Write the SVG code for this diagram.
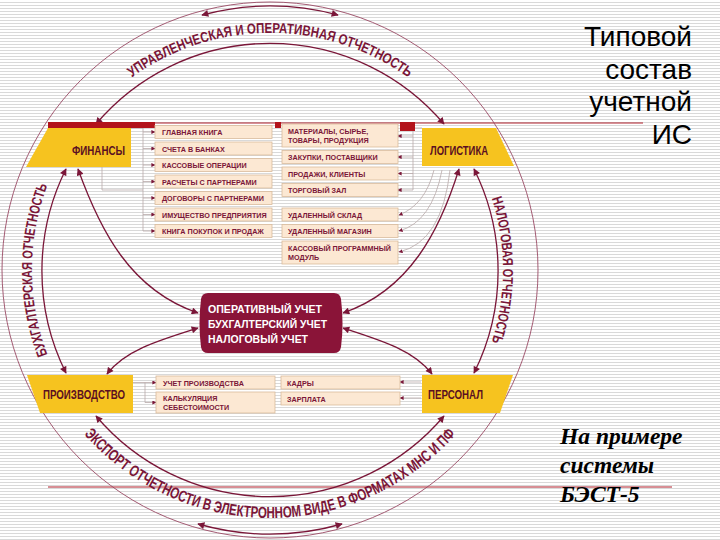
<svg xmlns="http://www.w3.org/2000/svg" width="720" height="540" viewBox="0 0 720 540">
<style>
.arc{fill:none;stroke:#7a1638;stroke-width:1.3}
.outer{fill:none;stroke:#9a4a64;stroke-width:0.9}
.arcT{font-family:"Liberation Sans",Arial,sans-serif;font-weight:bold;fill:#7a1638}
.corner path{fill:#f6c31f}
.corner text{font-family:"Liberation Sans",Arial,sans-serif;font-weight:bold;font-size:13px;fill:#5a0f22}
.item rect{fill:#fce8d3;stroke:#d9bb9c;stroke-width:0.8}
.item text{font-family:"Liberation Sans",Arial,sans-serif;font-weight:bold;font-size:7.2px;fill:#7a1638}
.conn{fill:none;stroke:#b9a9a9;stroke-width:0.8}
.slide{stroke:#b0202c;stroke-width:1.1}
.title{font-family:"Liberation Sans",Arial,sans-serif;font-size:28px;fill:#000}
.sub{font-family:"Liberation Serif","Times New Roman",serif;font-weight:bold;font-style:italic;font-size:23.5px;fill:#000}
.ctext{font-family:"Liberation Sans",Arial,sans-serif;font-weight:bold;font-size:11.5px;fill:#fff}
</style>
<defs>
<pattern id="stripes" width="4" height="3" patternUnits="userSpaceOnUse">
<rect width="4" height="3" fill="#ffffff"/>
<rect y="2" width="4" height="1" fill="#d9d9d9"/>
</pattern>
<marker id="ah" viewBox="0 0 10 10" refX="9" refY="5" markerWidth="8" markerHeight="7" markerUnits="userSpaceOnUse" orient="auto-start-reverse">
<path d="M0,0 L10,5 L0,10 z" fill="#7a1638"/>
</marker>
<marker id="sa" viewBox="0 0 10 10" refX="9" refY="5" markerWidth="4" markerHeight="4" markerUnits="userSpaceOnUse" orient="auto">
<path d="M0,0 L10,5 L0,10 z" fill="#7a1638"/>
</marker>
<path id="pTop" d="M117.7,88.4 A237,237 0 0 1 422.3,88.4"/>
<path id="pLeft" d="M75,406.5 A238,238 0 0 1 75,133.5"/>
<path id="pRight" d="M460.9,136.4 A233,233 0 0 1 460.9,403.6"/>
<path id="pBottom" d="M55.2,394 A248,248 0 0 0 484.8,394"/>
</defs>

<rect width="720" height="540" fill="url(#stripes)"/>

<g id="slide-lines">
<line class="slide" x1="48" y1="123" x2="643" y2="123"/>
<line class="slide" x1="48" y1="487" x2="672" y2="487"/>
</g>

<g id="title">
<text class="title" text-anchor="end" x="692" y="46">Типовой</text>
<text class="title" text-anchor="end" x="692" y="78.5">состав</text>
<text class="title" text-anchor="end" x="692" y="111">учетной</text>
<text class="title" text-anchor="end" x="692" y="143.5">ИС</text>
</g>
<g id="subtitle">
<text class="sub" x="560" y="444">На примере</text>
<text class="sub" x="560" y="473">системы</text>
<text class="sub" x="560" y="502">БЭСТ-5</text>
</g>

<g id="outer-ring">
<circle class="outer" cx="270" cy="270" r="268"/>
</g>

<g id="arc-labels">
<text class="arcT" font-size="14.5"><textPath href="#pTop" startOffset="50%" text-anchor="middle" textLength="295" lengthAdjust="spacingAndGlyphs">УПРАВЛЕНЧЕСКАЯ И ОПЕРАТИВНАЯ ОТЧЕТНОСТЬ</textPath></text>
<text class="arcT" font-size="14.5"><textPath href="#pLeft" startOffset="50%" text-anchor="middle" textLength="173" lengthAdjust="spacingAndGlyphs">БУХГАЛТЕРСКАЯ ОТЧЕТНОСТЬ</textPath></text>
<text class="arcT" font-size="14.5"><textPath href="#pRight" startOffset="50%" text-anchor="middle" textLength="146" lengthAdjust="spacingAndGlyphs">НАЛОГОВАЯ ОТЧЕТНОСТЬ</textPath></text>
<text class="arcT" font-size="16"><textPath href="#pBottom" startOffset="50%" text-anchor="middle" textLength="420" lengthAdjust="spacingAndGlyphs">ЭКСПОРТ ОТЧЕТНОСТИ В ЭЛЕКТРОННОМ ВИДЕ В ФОРМАТАХ МНС И ПФ</textPath></text>
</g>

<g id="connectors">
<path class="arc" d="M202,15 A264,264 0 0 1 338,15" marker-start="url(#ah)" marker-end="url(#ah)"/>
<path class="arc" d="M198,524 A264,264 0 0 0 342,524" marker-start="url(#ah)" marker-end="url(#ah)"/>
<path class="arc" d="M96,124 A228,228 0 0 1 444,124" marker-start="url(#ah)" marker-end="url(#ah)"/>
<path class="arc" d="M66,169 A228,228 0 0 0 66,373" marker-start="url(#ah)" marker-end="url(#ah)"/>
<path class="arc" d="M474,169 A228,228 0 0 1 474,373" marker-start="url(#ah)" marker-end="url(#ah)"/>
<path class="arc" d="M96,416 A228,228 0 0 0 444,416" marker-start="url(#ah)" marker-end="url(#ah)"/>
<path class="arc" d="M78,169 C100,230 130,290 198,313" marker-start="url(#ah)" marker-end="url(#ah)"/>
<path class="arc" d="M107,374 C125,350 160,340 198,328" marker-start="url(#ah)" marker-end="url(#ah)"/>
<path class="arc" d="M459,169 C440,230 410,290 343,313" marker-start="url(#ah)" marker-end="url(#ah)"/>
<path class="arc" d="M432,374 C414,350 380,340 343,328" marker-start="url(#ah)" marker-end="url(#ah)"/>
<path class="conn" d="M131,128 H143 M143,128 V231 M102,167 V190 H143"/>
<line class="conn" x1="143" y1="132" x2="155" y2="132" marker-end="url(#sa)"/>
<line class="conn" x1="143" y1="148.5" x2="155" y2="148.5" marker-end="url(#sa)"/>
<line class="conn" x1="143" y1="165" x2="155" y2="165" marker-end="url(#sa)"/>
<line class="conn" x1="143" y1="181.5" x2="155" y2="181.5" marker-end="url(#sa)"/>
<line class="conn" x1="143" y1="198" x2="155" y2="198" marker-end="url(#sa)"/>
<line class="conn" x1="143" y1="214.5" x2="155" y2="214.5" marker-end="url(#sa)"/>
<line class="conn" x1="143" y1="231" x2="155" y2="231" marker-end="url(#sa)"/>
<path class="conn" d="M422,128 H413 V190"/>
<line class="conn" x1="413" y1="136" x2="398" y2="136" marker-end="url(#sa)"/>
<line class="conn" x1="413" y1="157" x2="398" y2="157" marker-end="url(#sa)"/>
<line class="conn" x1="413" y1="173.5" x2="398" y2="173.5" marker-end="url(#sa)"/>
<line class="conn" x1="413" y1="190" x2="398" y2="190" marker-end="url(#sa)"/>
<path class="conn" d="M434,170 Q425,205 399,215" marker-end="url(#sa)"/>
<path class="conn" d="M442,170 Q432,222 399,231" marker-end="url(#sa)"/>
<path class="conn" d="M450,170 Q442,242 399,252" marker-end="url(#sa)"/>
<path class="conn" d="M133,382.5 H145 V402.5"/>
<line class="conn" x1="145" y1="382.5" x2="156" y2="382.5" marker-end="url(#sa)"/>
<line class="conn" x1="145" y1="402.5" x2="156" y2="402.5" marker-end="url(#sa)"/>
<line class="conn" x1="421" y1="382" x2="400" y2="382" marker-end="url(#sa)"/>
<line class="conn" x1="421" y1="398" x2="400" y2="398" marker-end="url(#sa)"/>
</g>

<g id="finance" class="corner">
<rect x="48" y="122" width="107" height="6" fill="#b3131b"/>
<path d="M48,128 H131 V167 H26 Z"/>
<text x="72" y="155" textLength="53" lengthAdjust="spacingAndGlyphs">ФИНАНСЫ</text>
</g>
<g id="logistics" class="corner">
<rect x="400" y="122" width="15" height="9" fill="#b3131b"/>
<path d="M422,128 H496 L514,166 H422 Z"/>
<text x="430" y="155" textLength="58" lengthAdjust="spacingAndGlyphs">ЛОГИСТИКА</text>
</g>
<g id="production" class="corner">
<path d="M27,375 H133 V413 H40 Z"/>
<text x="43" y="399" textLength="82" lengthAdjust="spacingAndGlyphs">ПРОИЗВОДСТВО</text>
</g>
<g id="personnel" class="corner">
<path d="M422,375 H513 L500,413 H422 Z"/>
<text x="428" y="399" textLength="55" lengthAdjust="spacingAndGlyphs">ПЕРСОНАЛ</text>
</g>

<g id="center">
<path d="M208,293 H334 Q340,293 341,299 Q344,323 341,347 Q340,353 334,353 H208 Q202,353 201,347 Q198,323 201,299 Q202,293 208,293 Z" fill="#8a1438"/>
<text class="ctext" x="208" y="313" textLength="114" lengthAdjust="spacingAndGlyphs">ОПЕРАТИВНЫЙ УЧЕТ</text>
<text class="ctext" x="208" y="328" textLength="119" lengthAdjust="spacingAndGlyphs">БУХГАЛТЕРСКИЙ УЧЕТ</text>
<text class="ctext" x="208" y="343" textLength="100" lengthAdjust="spacingAndGlyphs">НАЛОГОВЫЙ УЧЕТ</text>
</g>

<rect x="275" y="122" width="6" height="6" fill="#b3131b"/>

<g id="fin-items">
<g id="fin-1" class="item"><rect x="155" y="125.5" width="117" height="13"/><text x="162" y="135">ГЛАВНАЯ КНИГА</text></g>
<g id="fin-2" class="item"><rect x="155" y="142" width="117" height="13"/><text x="162" y="151.5">СЧЕТА В БАНКАХ</text></g>
<g id="fin-3" class="item"><rect x="155" y="158.5" width="117" height="13"/><text x="162" y="168">КАССОВЫЕ ОПЕРАЦИИ</text></g>
<g id="fin-4" class="item"><rect x="155" y="175" width="117" height="13"/><text x="162" y="184.5">РАСЧЕТЫ С ПАРТНЕРАМИ</text></g>
<g id="fin-5" class="item"><rect x="155" y="191.5" width="117" height="13"/><text x="162" y="201">ДОГОВОРЫ С ПАРТНЕРАМИ</text></g>
<g id="fin-6" class="item"><rect x="155" y="208" width="117" height="13"/><text x="162" y="217.5">ИМУЩЕСТВО ПРЕДПРИЯТИЯ</text></g>
<g id="fin-7" class="item"><rect x="155" y="224.5" width="117" height="13"/><text x="162" y="234">КНИГА ПОКУПОК И ПРОДАЖ</text></g>
</g>

<g id="log-items">
<g id="log-1" class="item"><rect x="282" y="124" width="116" height="23"/><text x="288" y="134">МАТЕРИАЛЫ, СЫРЬЕ,</text><text x="288" y="143">ТОВАРЫ, ПРОДУКЦИЯ</text></g>
<g id="log-2" class="item"><rect x="282" y="150.5" width="116" height="13"/><text x="288" y="160">ЗАКУПКИ, ПОСТАВЩИКИ</text></g>
<g id="log-3" class="item"><rect x="282" y="167" width="116" height="13"/><text x="288" y="176.5">ПРОДАЖИ, КЛИЕНТЫ</text></g>
<g id="log-4" class="item"><rect x="282" y="183.5" width="116" height="13"/><text x="288" y="193">ТОРГОВЫЙ ЗАЛ</text></g>
<g id="log-5" class="item"><rect x="282" y="208" width="116" height="13"/><text x="288" y="217.5">УДАЛЕННЫЙ СКЛАД</text></g>
<g id="log-6" class="item"><rect x="282" y="224.5" width="116" height="13"/><text x="288" y="234">УДАЛЕННЫЙ МАГАЗИН</text></g>
<g id="log-7" class="item"><rect x="282" y="241" width="116" height="23"/><text x="288" y="251">КАССОВЫЙ ПРОГРАММНЫЙ</text><text x="288" y="260">МОДУЛЬ</text></g>
</g>

<g id="prod-items">
<g id="prod-1" class="item"><rect x="156" y="376" width="119" height="13"/><text x="163" y="385.5">УЧЕТ ПРОИЗВОДСТВА</text></g>
<g id="prod-2" class="item"><rect x="156" y="392" width="119" height="21"/><text x="163" y="401">КАЛЬКУЛЯЦИЯ</text><text x="163" y="409.5">СЕБЕСТОИМОСТИ</text></g>
</g>

<g id="pers-items">
<g id="pers-1" class="item"><rect x="281" y="376" width="119" height="13"/><text x="287" y="385.5">КАДРЫ</text></g>
<g id="pers-2" class="item"><rect x="281" y="392" width="119" height="13"/><text x="287" y="401.5">ЗАРПЛАТА</text></g>
</g>
</svg>
